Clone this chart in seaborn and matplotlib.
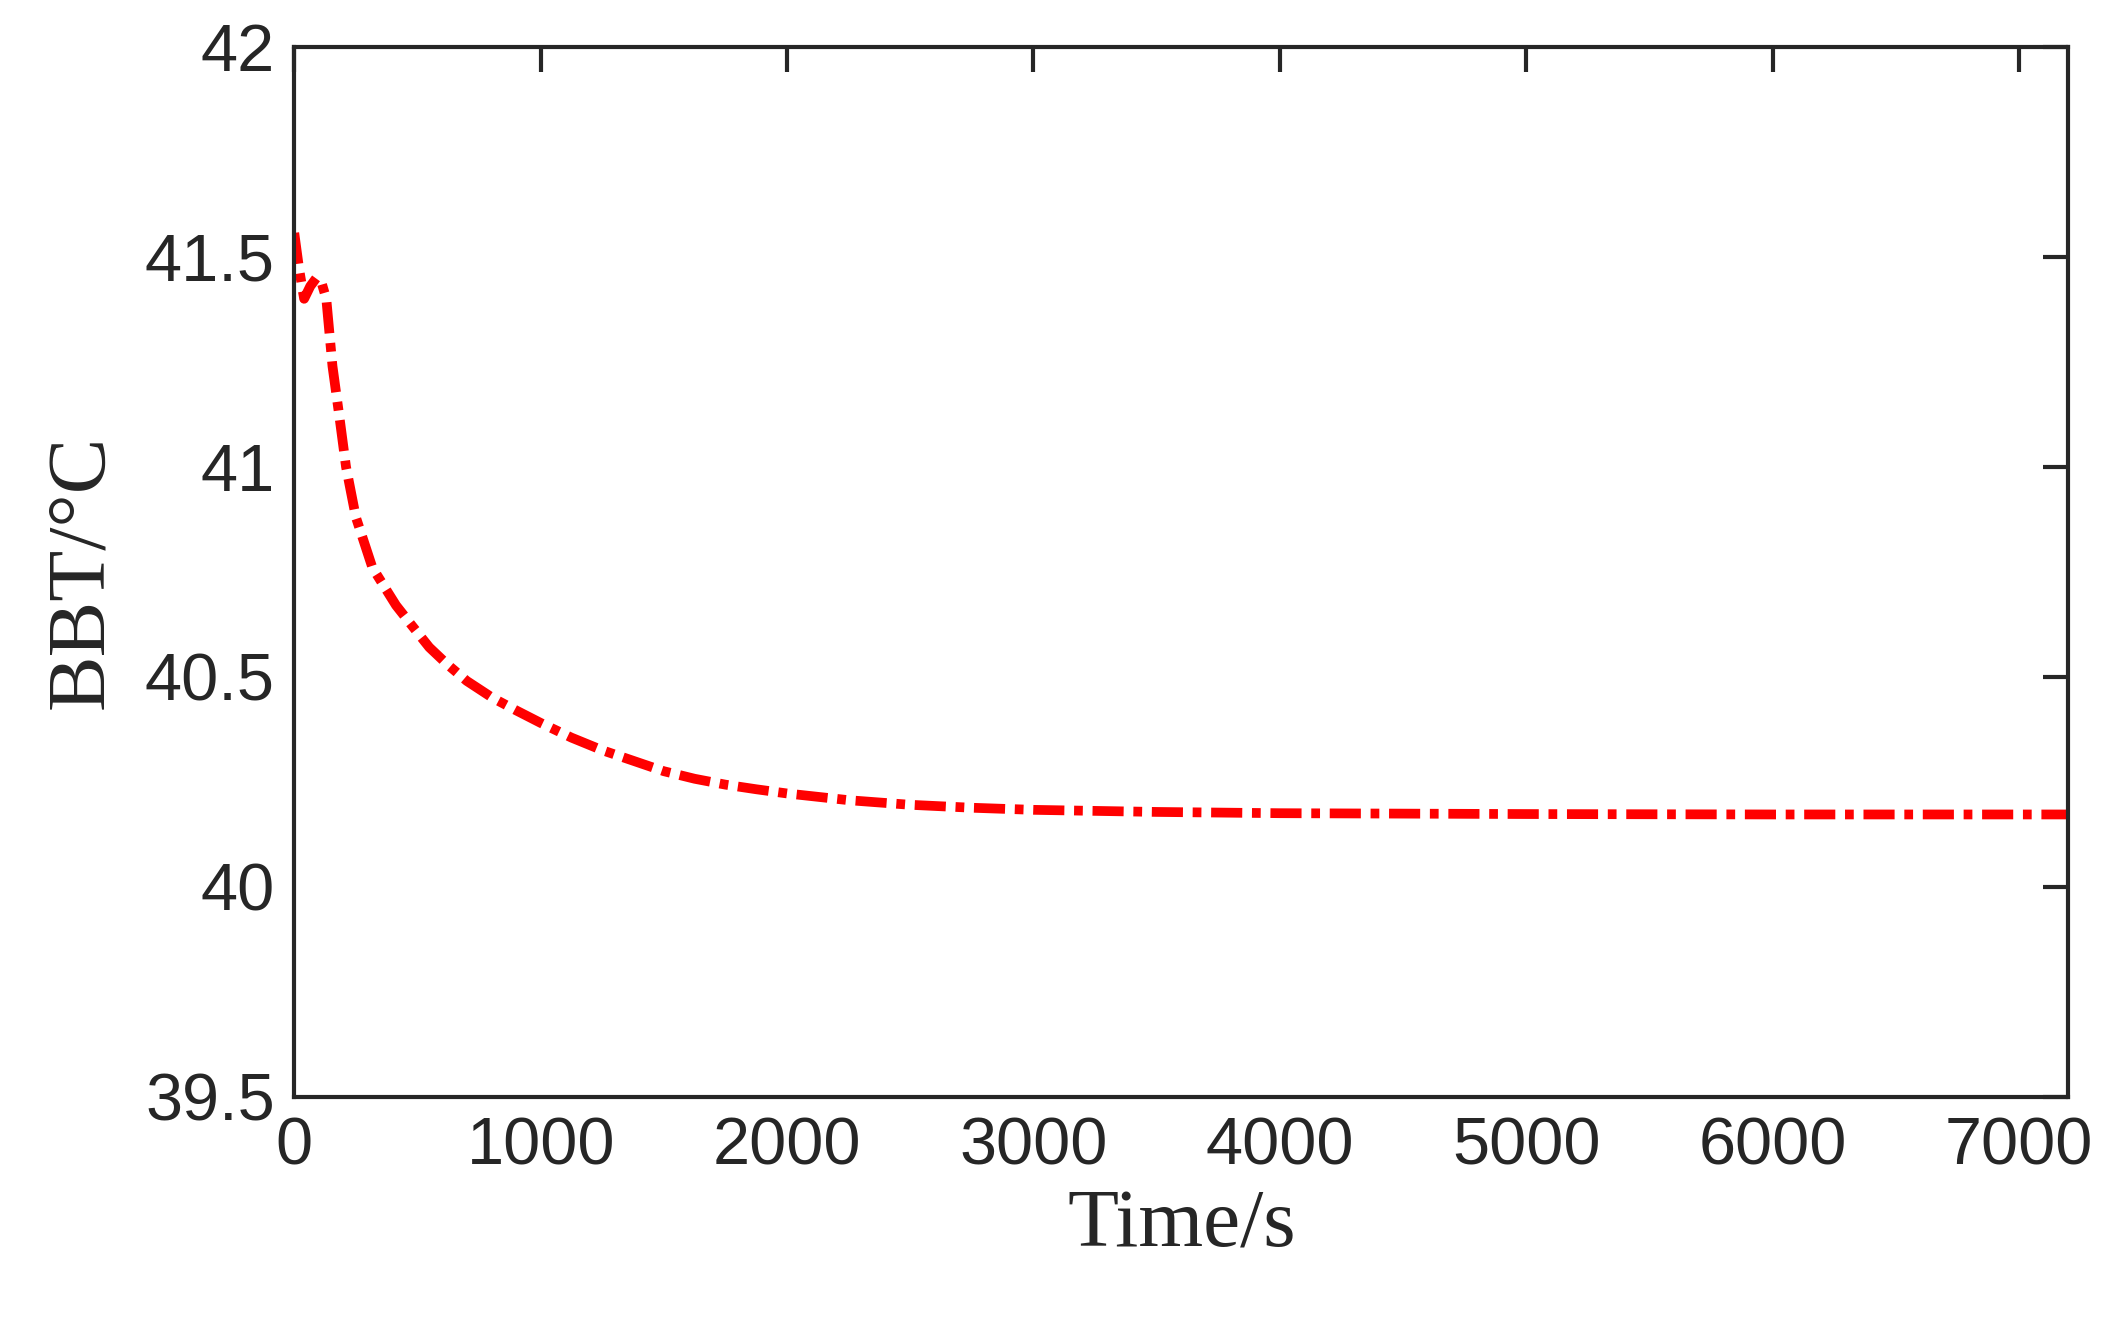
import matplotlib
matplotlib.use("Agg")
import matplotlib.pyplot as plt
import seaborn as sns
import pandas as pd

# BBT curve
time_s = [0, 20, 40, 65, 90, 110, 130, 155, 183, 210, 250, 317, 413, 480, 548, 620, 700,
          804, 900, 1000, 1125, 1250, 1375, 1500, 1625, 1750, 1875, 2000, 2250, 2500, 2750,
          3000, 3500, 4000, 5000, 6000, 7200]
bbt_c = [41.557, 41.47, 41.40, 41.43, 41.45, 41.44, 41.40, 41.24, 41.12, 41.0, 40.88, 40.76,
         40.67, 40.62, 40.57, 40.53, 40.49, 40.45, 40.42, 40.39, 40.355, 40.325, 40.30,
         40.275, 40.257, 40.243, 40.232, 40.222, 40.206, 40.195, 40.188, 40.183, 40.178,
         40.175, 40.173, 40.172, 40.172]

x_ticks = [0, 1000, 2000, 3000, 4000, 5000, 6000, 7000]
y_ticks = [39.5, 40, 40.5, 41, 41.5, 42]
y_tick_labels = ["39.5", "40", "40.5", "41", "41.5", "42"]

sns.set_theme(style="white")
plt.rcParams["font.family"] = ["Liberation Sans", "DejaVu Sans"]

df = pd.DataFrame({"t": time_s, "v": bbt_c})
fig = plt.figure(figsize=(21.17, 13.39), dpi=100)
ax = fig.add_axes([0.139, 0.181, 0.838, 0.784])
sns.lineplot(data=df, x="t", y="v", ax=ax, color="red", linewidth=7)
ax.lines[0].set_dashes([3.2, 1.0, 0.9, 1.0])

ax.set_xlim(0, 7200)
ax.set_ylim(39.5, 42)
ax.set_xticks(x_ticks)
ax.set_yticks(y_ticks)
ax.set_yticklabels(y_tick_labels)
ax.tick_params(direction="in", length=18, width=3, labelsize=48, colors="#262626",
               top=True, right=True, pad=14)
for sp in ax.spines.values():
    sp.set_linewidth(3)
    sp.set_color("#262626")
ax.set_xlabel("Time/s", fontsize=60, family=["Liberation Serif"], labelpad=8)
ax.set_ylabel("BBT/°C", fontsize=60, family=["Liberation Serif"], labelpad=18)

fig.savefig("out.png", dpi=100, facecolor="white")
